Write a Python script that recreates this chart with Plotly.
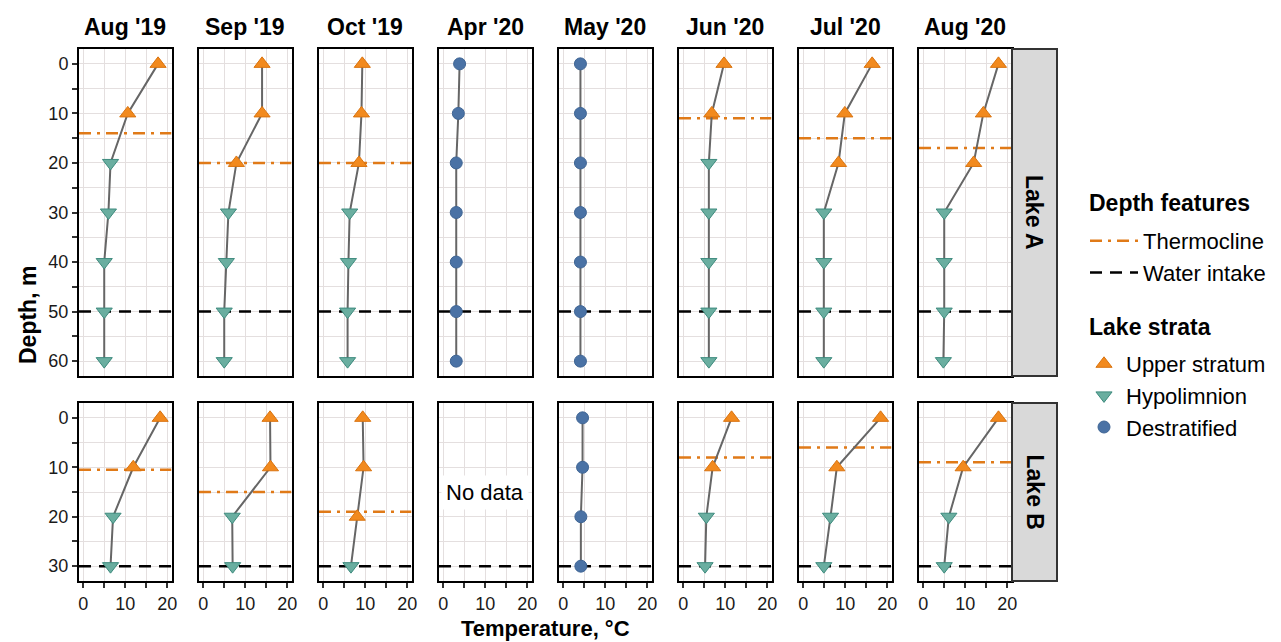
import plotly.graph_objects as go

# page body has an 8px margin; the figure is offset by it
OFF = 8
W, H = 1281 - 2 * OFF, 642 - OFF

months = ["Aug '19", "Sep '19", "Oct '19", "Apr '20", "May '20", "Jun '20", "Jul '20", "Aug '20"]
lakes = ["Lake A", "Lake B"]

depth_A = [0, 10, 20, 30, 40, 50, 60]
depth_B = [0, 10, 20, 30]

temp_A = [
    [17.8, 10.6, 6.5, 6.0, 5.0, 5.0, 5.0],
    [14.0, 14.0, 7.9, 6.0, 5.5, 5.0, 5.0],
    [9.3, 9.1, 8.5, 6.3, 6.0, 5.8, 5.8],
    [3.9, 3.6, 3.1, 3.1, 3.1, 3.1, 3.1],
    [4.1, 4.1, 4.1, 4.1, 4.1, 4.1, 4.1],
    [9.7, 6.8, 6.1, 6.1, 6.1, 6.1, 6.1],
    [16.4, 9.9, 8.4, 4.9, 4.9, 4.9, 4.9],
    [17.9, 14.3, 12.0, 5.0, 5.0, 5.0, 4.8],
]
strata_A = [
    ["U", "U", "H", "H", "H", "H", "H"],
    ["U", "U", "U", "H", "H", "H", "H"],
    ["U", "U", "U", "H", "H", "H", "H"],
    ["D", "D", "D", "D", "D", "D", "D"],
    ["D", "D", "D", "D", "D", "D", "D"],
    ["U", "U", "H", "H", "H", "H", "H"],
    ["U", "U", "U", "H", "H", "H", "H"],
    ["U", "U", "U", "H", "H", "H", "H"],
]
thermo_A = [14, 20, 20, None, None, 11, 15, 17]
intake_A = 50

temp_B = [
    [18.3, 11.9, 7.1, 6.5],
    [15.9, 16.0, 6.9, 7.0],
    [9.4, 9.6, 8.1, 6.6],
    None,
    [4.6, 4.6, 4.2, 4.2],
    [11.5, 7.0, 5.5, 5.2],
    [18.4, 8.0, 6.5, 4.9],
    [17.9, 9.5, 6.1, 5.0],
]
strata_B = [
    ["U", "U", "H", "H"],
    ["U", "U", "H", "H"],
    ["U", "U", "U", "H"],
    None,
    ["D", "D", "D", "D"],
    ["U", "U", "H", "H"],
    ["U", "U", "H", "H"],
    ["U", "U", "H", "H"],
]
thermo_B = [10.5, 15, 19, None, None, 8, 6, 9]
intake_B = 30

x_ticks = [0, 5, 10, 15, 20]
x_ticklabels = ["0", "", "10", "", "20"]
yA_ticks = list(range(0, 61, 5))
yB_ticks = list(range(0, 31, 5))

strata_names = {"U": "Upper stratum", "H": "Hypolimnion", "D": "Destratified"}
strata_symbols = {"U": "triangle-up", "H": "triangle-down", "D": "circle"}
strata_fill = {"U": "#f28a1e", "H": "#6aaea0", "D": "#4a72a5"}
strata_edge = {"U": "#d9730f", "H": "#3e8b7e", "D": "#3f6594"}

ORANGE_LINE = "#e07a18"
GRID = "#e4dfdf"
FONT = "Liberation Sans, Arial, sans-serif"

fig = go.Figure()

# geometry in reference-page pixels
col_left = [79 + 120 * i for i in range(8)]
col_w = 92.5
rows_px = [(49, 376), (403, 581)]
y_ranges = [[63, -3], [33, -3]]


def px_x(p):
    return (p - OFF) / W


def px_y(p):
    return 1 - (p - OFF) / H


shown = set()

for r in range(2):
    temps = temp_A if r == 0 else temp_B
    strata = strata_A if r == 0 else strata_B
    depths = depth_A if r == 0 else depth_B
    thermo = thermo_A if r == 0 else thermo_B
    intake = intake_A if r == 0 else intake_B
    yticks = yA_ticks if r == 0 else yB_ticks
    for c in range(8):
        idx = r * 8 + c + 1
        xa = "xaxis" if idx == 1 else f"xaxis{idx}"
        ya = "yaxis" if idx == 1 else f"yaxis{idx}"
        xr = "x" if idx == 1 else f"x{idx}"
        yr = "y" if idx == 1 else f"y{idx}"
        x0 = col_left[c]
        top, bot = rows_px[r]
        fig.layout[xa] = dict(
            domain=[px_x(x0), px_x(x0 + col_w)], anchor=yr, range=[-1, 21],
            tickvals=x_ticks, ticktext=x_ticklabels if r == 1 else [""] * 5,
            ticks="outside" if r == 1 else "", ticklen=5, tickwidth=2, tickcolor="#333333",
            showgrid=True, gridcolor=GRID, gridwidth=1, zeroline=False,
            showline=True, linecolor="black", linewidth=2, mirror=True,
            tickfont=dict(size=18, color="#1a1a1a", family=FONT),
            showticklabels=(r == 1),
        )
        fig.layout[ya] = dict(
            domain=[px_y(bot), px_y(top)], anchor=xr, range=y_ranges[r],
            tickvals=yticks, ticktext=[str(v) if v % 10 == 0 else "" for v in yticks],
            ticks="outside" if c == 0 else "", ticklen=5, tickwidth=2, tickcolor="#333333",
            showgrid=True, gridcolor=GRID, gridwidth=1, zeroline=False,
            showline=True, linecolor="black", linewidth=2, mirror=True,
            tickfont=dict(size=18, color="#1a1a1a", family=FONT),
            showticklabels=(c == 0),
        )

        # reference lines
        if thermo[c] is not None:
            fig.add_trace(go.Scatter(
                x=[-1, 21], y=[thermo[c], thermo[c]], xaxis=xr, yaxis=yr, mode="lines",
                line=dict(color=ORANGE_LINE, width=2.5, dash="12px,6px,3px,6px"),
                name="Thermocline", legend="legend", legendgroup="thermo",
                showlegend=("thermo" not in shown), hoverinfo="skip"))
            shown.add("thermo")
        fig.add_trace(go.Scatter(
            x=[-1, 21], y=[intake, intake], xaxis=xr, yaxis=yr, mode="lines",
            line=dict(color="black", width=2.5, dash="12px,8px"),
            name="Water intake", legend="legend", legendgroup="intake",
            showlegend=("intake" not in shown), hoverinfo="skip"))
        shown.add("intake")

        if temps[c] is None:
            fig.add_annotation(x=10, y=15, xref=xr, yref=yr, text="No data", showarrow=False,
                               xanchor="center", yanchor="middle",
                               font=dict(size=22, color="black", family=FONT),
                               bgcolor="white", borderpad=4)
            continue

        fig.add_trace(go.Scatter(
            x=temps[c], y=depths, xaxis=xr, yaxis=yr, mode="lines",
            line=dict(color="#666666", width=2), showlegend=False, hoverinfo="skip"))
        for s in ["U", "H", "D"]:
            xs = [t for t, st in zip(temps[c], strata[c]) if st == s]
            ys = [d for d, st in zip(depths, strata[c]) if st == s]
            if not xs:
                continue
            fig.add_trace(go.Scatter(
                x=xs, y=ys, xaxis=xr, yaxis=yr, mode="markers",
                marker=dict(symbol=strata_symbols[s], size=14 if s != "D" else 12,
                            color=strata_fill[s], line=dict(color=strata_edge[s], width=1)),
                name=strata_names[s], legend="legend2", legendgroup=s,
                legendrank={"U": 1, "H": 2, "D": 3}[s],
                showlegend=(s not in shown)))
            shown.add(s)

# column titles
for c, m in enumerate(months):
    fig.add_annotation(x=px_x(col_left[c] + col_w / 2), y=px_y(27), xref="paper", yref="paper",
                       text=f"<b>{m}</b>", showarrow=False, xanchor="center", yanchor="middle",
                       font=dict(size=23, color="black", family=FONT))

# row strips
for r, lake in enumerate(lakes):
    top, bot = rows_px[r]
    fig.add_shape(type="rect", xref="paper", yref="paper",
                  x0=px_x(1012), x1=px_x(1057), y0=px_y(bot), y1=px_y(top),
                  fillcolor="#d9d9d9", line=dict(color="#333333", width=2), layer="above")
    fig.add_annotation(x=px_x(1034.5), y=px_y((top + bot) / 2), xref="paper", yref="paper",
                       text=f"<b>{lake}</b>", showarrow=False, textangle=90,
                       xanchor="center", yanchor="middle",
                       font=dict(size=23, color="black", family=FONT))

# axis titles
fig.add_annotation(x=px_x(28), y=px_y(315), xref="paper", yref="paper", text="<b>Depth, m</b>",
                   showarrow=False, textangle=-90, xanchor="center", yanchor="middle",
                   font=dict(size=23, color="black", family=FONT))
fig.add_annotation(x=px_x(545), y=px_y(628), xref="paper", yref="paper",
                   text="<b>Temperature, °C</b>", showarrow=False, xanchor="center", yanchor="middle",
                   font=dict(size=22, color="black", family=FONT))

# legend titles
fig.add_annotation(x=px_x(1087), y=px_y(203), xref="paper", yref="paper",
                   text="<b>Depth features</b>", showarrow=False, xanchor="left", yanchor="middle",
                   font=dict(size=23, color="black", family=FONT))
fig.add_annotation(x=px_x(1087), y=px_y(327), xref="paper", yref="paper",
                   text="<b>Lake strata</b>", showarrow=False, xanchor="left", yanchor="middle",
                   font=dict(size=23, color="black", family=FONT))

fig.update_layout(
    width=W, height=H, margin=dict(l=0, r=0, t=0, b=0, autoexpand=False),
    paper_bgcolor="white", plot_bgcolor="white",
    font=dict(family=FONT, color="black"),
    legend=dict(
        x=px_x(1085), y=px_y(220), xanchor="left", yanchor="top",
        font=dict(size=22, family=FONT), bgcolor="rgba(0,0,0,0)", tracegroupgap=0,
        itemwidth=48,
    ),
    legend2=dict(
        x=px_x(1082), y=px_y(343), xanchor="left", yanchor="top",
        font=dict(size=22, family=FONT), bgcolor="rgba(0,0,0,0)", tracegroupgap=0,
        itemwidth=34,
    ),
    showlegend=True,
)

fig.write_html("out.html")
